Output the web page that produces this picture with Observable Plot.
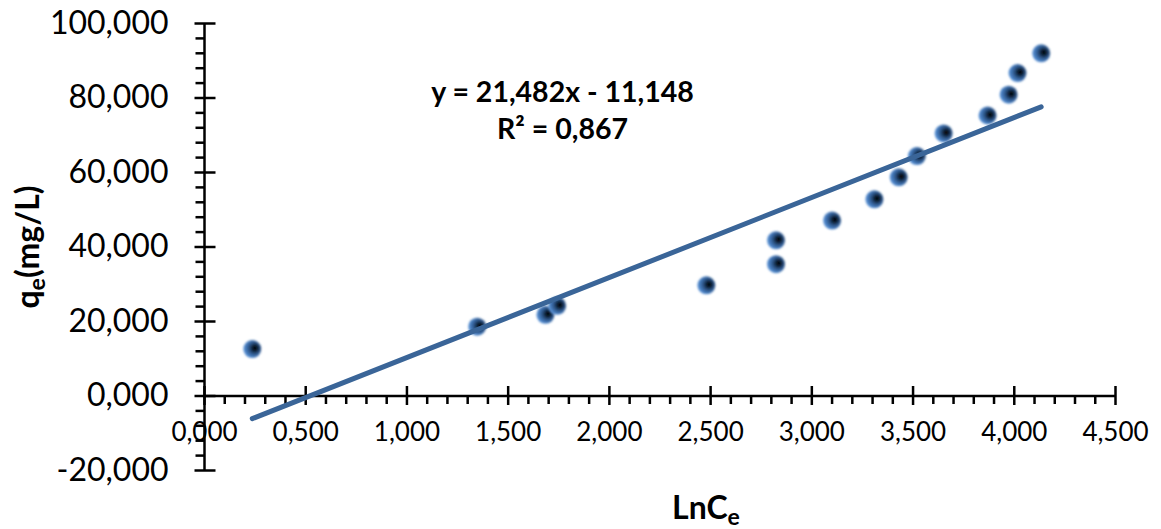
<!DOCTYPE html>
<html><head><meta charset="utf-8">
<script src="https://cdn.jsdelivr.net/npm/d3@7"></script>
<script src="https://cdn.jsdelivr.net/npm/@observablehq/plot@0.6"></script>
<style>body{margin:0;background:#fff} svg{display:block}</style>
</head><body><div id="chart"></div>
<script>
// Data
const lnCe = [0.236, 1.347, 1.684, 1.742, 2.479, 2.823, 2.823, 3.100, 3.309, 3.429, 3.519, 3.651, 3.868, 3.972, 4.016, 4.133];
const qe   = [12.6, 18.6, 21.8, 24.2, 29.7, 35.4, 41.8, 47.1, 52.8, 58.7, 64.4, 70.5, 75.3, 80.9, 86.7, 92.0];
// Trendline (as printed on the chart)
const slope = 21.482;
const intercept = -11.148;
const r2 = 0.867;
// Axis ticks
const xMajor = [0, 0.5, 1, 1.5, 2, 2.5, 3, 3.5, 4, 4.5];
const yMajor = [-20, 0, 20, 40, 60, 80, 100];
const xMinor = d3.range(0, 4.501, 0.1).filter(v => Math.abs(v * 2 - Math.round(v * 2)) > 1e-6);
const yMinor = d3.range(-20, 100.01, 4).filter(v => v % 20 !== 0);

const fmt = v => v.toFixed(3).replace(".", ",").replace("-0,000", "0,000");
const fmtCoef = v => Math.abs(v).toFixed(3).replace(".", ",");

const points = lnCe.map((x, i) => ({x, y: qe[i]}));
const xs = d3.extent(lnCe);
const trend = xs.map(x => ({x, y: slope * x + intercept}));
const eqText = `y = ${fmtCoef(slope)}x ${intercept < 0 ? "-" : "+"} ${fmtCoef(intercept)}\nR² = ${fmtCoef(r2)}`;

// custom tick symbols
const xTickMajor = {draw(c){ c.moveTo(0, -10); c.lineTo(0, 9); }};
const xTickMinor = {draw(c){ c.moveTo(0, 0); c.lineTo(0, 8); }};
const yTickMajor = {draw(c){ c.moveTo(-10, 0); c.lineTo(11, 0); }};
const yTickMinor = {draw(c){ c.moveTo(-9, 0); c.lineTo(0, 0); }};

const font = "Lato, 'Open Sans', sans-serif";

const plot = Plot.plot({
  width: 1161,
  height: 529,
  marginLeft: 204,
  marginRight: 46,
  marginTop: 23,
  marginBottom: 59,
  style: {fontFamily: font, background: "#fff", overflow: "visible"},
  x: {domain: [0, 4.5], axis: null},
  y: {domain: [-20, 100], axis: null},
  marks: [
    // tick labels
    Plot.text(yMajor, {x: 0, y: d => d, text: fmt, textAnchor: "end", dx: -36, fontSize: 32, fill: "#000"}),
    Plot.text(xMajor, {x: d => d, y: 0, text: fmt, textAnchor: "middle", dy: 37, fontSize: 26, fill: "#000"}),
    // axis lines
    Plot.ruleX([0], {y1: -20, y2: 100, stroke: "#000", strokeWidth: 2.5}),
    Plot.ruleY([0], {x1: 0, x2: 4.5, stroke: "#000", strokeWidth: 2.5}),
    // ticks
    Plot.dot(yMajor, {x: 0, y: d => d, symbol: yTickMajor, r: 5, fill: "none", stroke: "#000", strokeWidth: 2.5}),
    Plot.dot(yMinor, {x: 0, y: d => d, symbol: yTickMinor, r: 5, fill: "none", stroke: "#000", strokeWidth: 2.5}),
    Plot.dot(xMajor, {x: d => d, y: 0, symbol: xTickMajor, r: 5, fill: "none", stroke: "#000", strokeWidth: 2.5}),
    Plot.dot(xMinor, {x: d => d, y: 0, symbol: xTickMinor, r: 5, fill: "none", stroke: "#000", strokeWidth: 2.5}),
    // axis titles
    Plot.text(["Q_TITLE"], {frameAnchor: "left", dx: -176, rotate: -90, textAnchor: "middle", lineAnchor: "middle", fontSize: 32, fontWeight: "bold", fill: "#000"}),
    Plot.text(["X_TITLE"], {frameAnchor: "bottom", dx: 46, dy: 38, textAnchor: "middle", lineAnchor: "middle", fontSize: 32, fontWeight: "bold", fill: "#000"}),
    // data points
    Plot.dot(points, {x: "x", y: "y", r: 9, fill: "url(#ball)", stroke: "none"}),
    // trendline
    Plot.line(trend, {x: "x", y: "y", stroke: "#3A6598", strokeWidth: 5, strokeLinecap: "round"}),
    // equation
    Plot.text([eqText], {frameAnchor: "top-left", dx: 358, dy: 85, textAnchor: "middle", lineAnchor: "middle", lineHeight: 1.3, fontSize: 28.5, fontWeight: "bold", fill: "#000"})
  ]
});

document.getElementById("chart").appendChild(plot);

// gradient for the 3D-like markers
const svg = d3.select(plot);
const defs = svg.insert("defs", ":first-child");
const g = defs.append("radialGradient").attr("id", "ball")
  .attr("cx", "0.6").attr("cy", "0.45").attr("r", "0.7")
  .attr("fx", "0.66").attr("fy", "0.45");
[[0, "#000000"], [0.18, "#0b1626"], [0.45, "#2d5487"], [0.75, "#4d85c9"], [1, "#7cb2ee"]]
  .forEach(([o, c]) => g.append("stop").attr("offset", o).attr("stop-color", c));
defs.append("filter").attr("id", "soft").attr("x", "-30%").attr("y", "-30%").attr("width", "160%").attr("height", "160%")
  .append("feGaussianBlur").attr("stdDeviation", 0.8);
svg.selectAll("circle").attr("filter", "url(#soft)");

// subscripted titles
svg.selectAll("text").each(function() {
  const t = d3.select(this);
  const s = this.textContent;
  if (s === "Q_TITLE" || s === "X_TITLE") {
    const parts = s === "Q_TITLE" ? ["q", "e", "(mg/L)"] : ["LnC", "e", ""];
    let target = t.select("tspan").empty() ? t : t.select("tspan");
    target.text(null);
    target.append("tspan").text(parts[0]);
    target.append("tspan").attr("baseline-shift", "-25%").attr("font-size", "0.72em").text(parts[1]);
    if (parts[2]) target.append("tspan").text(parts[2]);
  }
});
</script>
</body></html>
